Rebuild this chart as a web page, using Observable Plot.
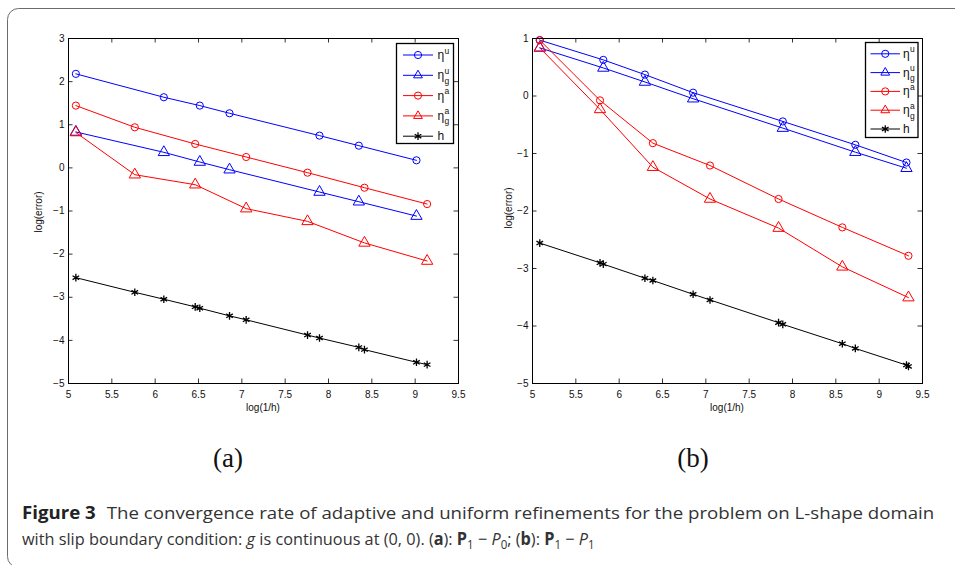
<!DOCTYPE html>
<html>
<head>
<meta charset="utf-8">
<script src="https://cdn.jsdelivr.net/npm/d3@7"></script>
<script src="https://cdn.jsdelivr.net/npm/@observablehq/plot@0.6"></script>
<style>
  html, body { margin: 0; padding: 0; background: #fff; }
  #root { position: relative; width: 955px; height: 565px; overflow: hidden; background: #fff; }
  .panel { position: absolute; top: 0; }
  #overlay { position: absolute; left: 0; top: 0; }
</style>
</head>
<body>
<div id="root">
  <div id="pa" class="panel" style="left:0px"></div>
  <div id="pb" class="panel" style="left:470px"></div>
  <svg id="overlay" width="955" height="565"></svg>
</div>
<script>
// ---------- data ----------
const xTicks = [5, 5.5, 6, 6.5, 7, 7.5, 8, 8.5, 9, 9.5];
const yTicksA = [-5, -4, -3, -2, -1, 0, 1, 2, 3];
const yTicksB = [-5, -4, -3, -2, -1, 0, 1];
const seriesKeys = ["etaU", "etaGU", "etaA", "etaGA", "h"];

// panel (a): P1 - P0
const xUniformA = [5.085, 6.10, 6.515, 6.858, 7.896, 8.35, 9.015];
const etaU_A  = [2.18, 1.638, 1.444, 1.266, 0.748, 0.515, 0.175];
const etaGU_A = [0.833, 0.361, 0.136, -0.042, -0.56, -0.785, -1.118];
const xAdaptiveA = [5.085, 5.765, 6.462, 7.05, 7.758, 8.415, 9.138];
const etaA_A  = [1.444, 0.941, 0.554, 0.252, -0.111, -0.46, -0.839];
const etaGA_A = [0.82, -0.158, -0.39, -0.945, -1.24, -1.74, -2.16];
const xHA = [5.085, 5.765, 6.10, 6.462, 6.515, 6.858, 7.05, 7.758, 7.896, 8.35, 8.415, 9.015, 9.138];
const hA  = [-2.546, -2.885, -3.046, -3.223, -3.254, -3.431, -3.523, -3.877, -3.946, -4.162, -4.215, -4.508, -4.562];

// panel (b): P1 - P1
const xUniformB = [5.084, 5.817, 6.297, 6.853, 7.888, 8.725, 9.315];
const etaU_B  = [0.971, 0.628, 0.372, 0.058, -0.442, -0.849, -1.157];
const etaGU_B = [0.837, 0.488, 0.244, -0.047, -0.558, -0.977, -1.256];
const xAdaptiveB = [5.084, 5.779, 6.389, 7.048, 7.839, 8.575, 9.338];
const etaA_B  = [0.971, -0.076, -0.82, -1.209, -1.791, -2.285, -2.779];
const etaGA_B = [0.837, -0.233, -1.238, -1.791, -2.297, -2.971, -3.506];
const xHB = [5.084, 5.779, 5.817, 6.297, 6.389, 6.853, 7.048, 7.839, 7.888, 8.575, 8.725, 9.315, 9.338];
const hB  = [-2.558, -2.901, -2.924, -3.169, -3.209, -3.448, -3.547, -3.942, -3.971, -4.308, -4.390, -4.680, -4.703];

const xLabel = "log(1/h)";
const yLabel = "log(error)";
const panelLabels = ["(a)", "(b)"];

// ---------- styles ----------
const seriesStyle = {
  etaU:  {color: "#0000ff", symbol: "circle",   r: 3.6, base: "η", sup: "u", sub: ""},
  etaGU: {color: "#0000ff", symbol: "triangle", r: 4.2, base: "η", sup: "u", sub: "g"},
  etaA:  {color: "#ff0000", symbol: "circle",   r: 3.6, base: "η", sup: "a", sub: ""},
  etaGA: {color: "#ff0000", symbol: "triangle", r: 4.2, base: "η", sup: "a", sub: "g"},
  h:     {color: "#000000", symbol: "asterisk", r: 3.6, base: "h", sup: "", sub: ""}
};
const FONT = "'Liberation Sans', Arial, Helvetica, sans-serif";

function zip(xs, ys) { return xs.map((x, i) => ({x, y: ys[i]})); }

const panelA = {
  el: "#pa", width: 470, ml: 68, mr: 12, yDomain: [-5, 3], yTicks: yTicksA,
  series: {
    etaU: zip(xUniformA, etaU_A), etaGU: zip(xUniformA, etaGU_A),
    etaA: zip(xAdaptiveA, etaA_A), etaGA: zip(xAdaptiveA, etaGA_A),
    h: zip(xHA, hA)
  }
};
const panelB = {
  el: "#pb", width: 470, ml: 62, mr: 18, yDomain: [-5, 1], yTicks: yTicksB,
  series: {
    etaU: zip(xUniformB, etaU_B), etaGU: zip(xUniformB, etaGU_B),
    etaA: zip(xAdaptiveB, etaA_B), etaGA: zip(xAdaptiveB, etaGA_B),
    h: zip(xHB, hB)
  }
};

const H = 420, MT = 38, MB = 37, TICK = 4.5;
const fmtNum = d => d < 0 ? "\u2212" + (-d) : String(d);

function drawPanel(p) {
  const iH = H - MT - MB, iW = p.width - p.ml - p.mr;
  const marks = [
    Plot.tickX(xTicks, {x: d => d, insetTop: iH - TICK, stroke: "black", strokeWidth: 0.8}),
    Plot.tickX(xTicks, {x: d => d, insetBottom: iH - TICK, stroke: "black", strokeWidth: 0.8}),
    Plot.tickY(p.yTicks, {y: d => d, insetRight: iW - TICK, stroke: "black", strokeWidth: 0.8}),
    Plot.tickY(p.yTicks, {y: d => d, insetLeft: iW - TICK, stroke: "black", strokeWidth: 0.8}),
    Plot.axisX(xTicks, {tickSize: 0, tickPadding: 7, label: null, tickFormat: fmtNum, fill: "#111"}),
    Plot.axisY(p.yTicks, {tickSize: 0, tickPadding: 4, label: null, tickFormat: fmtNum, fill: "#111"})
  ];
  for (const k of seriesKeys) {
    const s = seriesStyle[k];
    marks.push(Plot.line(p.series[k], {x: "x", y: "y", stroke: s.color, strokeWidth: 1}));
    marks.push(Plot.dot(p.series[k], {x: "x", y: "y", symbol: s.symbol, r: s.r, stroke: s.color,
      fill: "none", strokeWidth: k === "h" ? 1.3 : 1}));
  }
  marks.push(Plot.frame({stroke: "black", strokeWidth: 1}));
  const chart = Plot.plot({
    width: p.width, height: H,
    marginLeft: p.ml, marginRight: p.mr, marginTop: MT, marginBottom: MB,
    x: {domain: [5, 9.5]},
    y: {domain: p.yDomain},
    style: {fontFamily: FONT, fontSize: "10px", background: "transparent", color: "black"},
    marks
  });
  document.querySelector(p.el).appendChild(chart);
}
drawPanel(panelA);
drawPanel(panelB);

// ---------- overlay: border, legends, labels, caption ----------
const svg = d3.select("#overlay");
svg.append("rect").attr("x", 7.5).attr("y", 8.5).attr("width", 1000).attr("height", 559)
  .attr("rx", 11).attr("fill", "none").attr("stroke", "#6b6b6b").attr("stroke-width", 1);

// axis labels
const axisLab = [
  {xl: 263, yl: 411, yx: 42, yy: 212},
  {xl: 727, yl: 411, yx: 512, yy: 208}
];
axisLab.forEach(a => {
  svg.append("text").attr("x", a.xl).attr("y", a.yl).attr("text-anchor", "middle")
    .attr("font-family", FONT).attr("font-size", 10).attr("fill", "#111").text(xLabel);
  svg.append("text").attr("transform", `translate(${a.yx},${a.yy}) rotate(-90)`)
    .attr("text-anchor", "middle").attr("font-family", FONT).attr("font-size", 10)
    .attr("fill", "#111").text(yLabel);
});

// legends
const legends = [
  {x: 396.5, y: 43.5, w: 57, h: 100, row0: 11.5, dy: 20.3, l0: 6.5, l1: 36.5, tx: 41},
  {x: 865.5, y: 42.5, w: 52.5, h: 95, row0: 11.3, dy: 18.8, l0: 5, l1: 34.5, tx: 37.5}
];
const symMap = {circle: d3.symbolCircle, triangle: d3.symbolTriangle2, asterisk: d3.symbolAsterisk};
legends.forEach(L => {
  const g = svg.append("g").attr("transform", `translate(${L.x},${L.y})`);
  g.append("rect").attr("width", L.w).attr("height", L.h).attr("fill", "white")
    .attr("stroke", "black").attr("stroke-width", 1.3);
  seriesKeys.forEach((k, i) => {
    const s = seriesStyle[k];
    const cy = L.row0 + i * L.dy;
    g.append("line").attr("x1", L.l0).attr("x2", L.l1).attr("y1", cy).attr("y2", cy)
      .attr("stroke", s.color).attr("stroke-width", 1);
    g.append("path").attr("transform", `translate(${(L.l0 + L.l1) / 2},${cy})`)
      .attr("d", d3.symbol(symMap[s.symbol], Math.PI * s.r * s.r)())
      .attr("fill", "none").attr("stroke", s.color).attr("stroke-width", k === "h" ? 1.3 : 1);
    g.append("text").attr("x", L.tx).attr("y", cy + 4).attr("font-family", FONT)
      .attr("font-size", 12).attr("fill", "#111").text(s.base);
    if (s.sup) g.append("text").attr("x", L.tx + 7).attr("y", cy - 1.5).attr("font-family", FONT)
      .attr("font-size", 8.5).attr("fill", "#111").text(s.sup);
    if (s.sub) g.append("text").attr("x", L.tx + 7).attr("y", cy + 8.5).attr("font-family", FONT)
      .attr("font-size", 8.5).attr("fill", "#111").text(s.sub);
  });
});

// panel labels
[[228, panelLabels[0]], [693, panelLabels[1]]].forEach(([x, t]) => {
  svg.append("text").attr("x", x).attr("y", 467).attr("text-anchor", "middle")
    .attr("font-family", "'Liberation Serif', 'DejaVu Serif', serif").attr("font-size", 27)
    .attr("fill", "#111").text(t);
});

// caption: natural font, horizontally scaled to match the reference's narrow face
const CAP = "'Open Sans', 'Noto Sans', sans-serif";
function captionLine(x, y, targetW, build) {
  const g = svg.append("g");
  const t = g.append("text").attr("x", 0).attr("y", 0).attr("font-family", CAP)
    .attr("font-size", 17).attr("fill", "#333");
  build(t);
  const bb = t.node().getBBox();
  const w = (bb.x + bb.width) || targetW;
  g.attr("transform", `translate(${x},${y}) scale(${targetW / w},1)`);
}
captionLine(22, 519, 913, t => {
  t.append("tspan").attr("font-weight", "bold").attr("fill", "#222").text("Figure 3");
  t.append("tspan").attr("dx", 10).text("The convergence rate of adaptive and uniform refinements for the problem on L-shape domain");
});
captionLine(22, 545, 573, t => {
  const parts = [
    ["with slip boundary condition: "], ["g", "i"], [" is continuous at (0, 0). ("], ["a", "b"], ["): "],
    ["P", "b"], ["1", "sub"], [" \u2212 "], ["P", "i"], ["0", "sub"], ["; ("], ["b", "b"], ["): "],
    ["P", "b"], ["1", "sub"], [" \u2212 "], ["P", "i"], ["1", "sub"]
  ];
  let shifted = false;
  parts.forEach(([s, st]) => {
    const ts = t.append("tspan").text(s);
    if (st === "i") ts.attr("font-style", "italic");
    if (st === "b") ts.attr("font-weight", "bold");
    if (st === "sub") { ts.attr("font-size", 12).attr("dy", 4); shifted = true; }
    else if (shifted) { ts.attr("dy", -4); shifted = false; }
  });
});
</script>
</body>
</html>
